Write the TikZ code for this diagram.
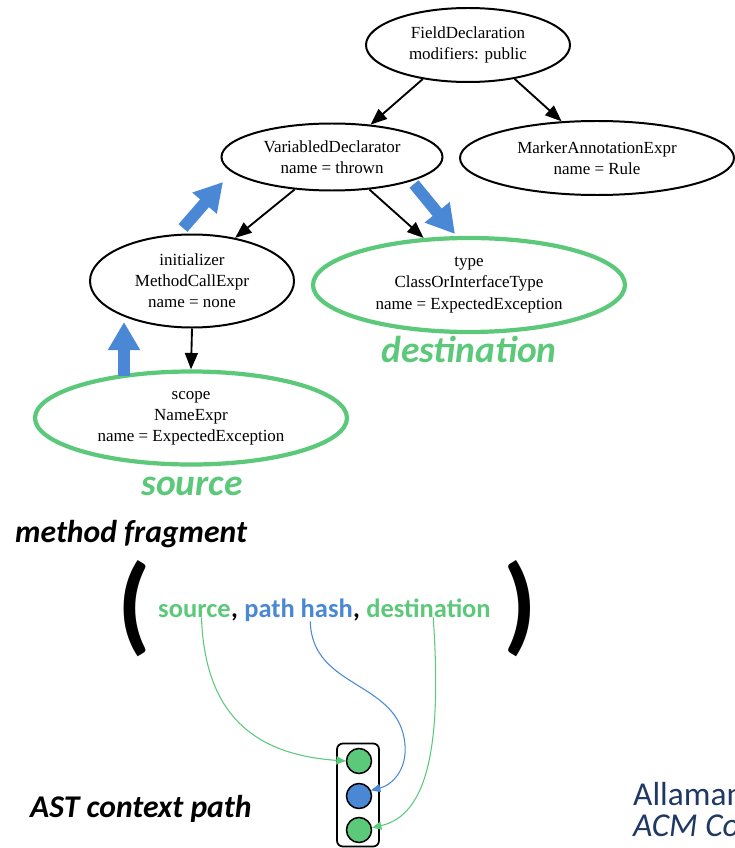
\documentclass[tikz,border=0pt]{standalone}
\usepackage{fontspec}
\setmainfont{Liberation Serif}
\newfontfamily\calibri{Carlito}
\usetikzlibrary{shapes.geometric,arrows.meta}

\definecolor{pathgreen}{RGB}{92,200,122}
\definecolor{pathblue}{RGB}{74,135,212}
\definecolor{refnavy}{RGB}{31,56,100}
\newlength\pxu \setlength\pxu{0.03cm}

\begin{document}
\begin{tikzpicture}[x=\pxu, y=-\pxu, every node/.style={inner sep=0pt}]
  \tikzstyle{ast}=[ellipse, draw, line width=1.7pt, align=center, font=\fontsize{14.5}{18}\selectfont]
  \tikzstyle{picked}=[ast, draw=pathgreen, line width=3.6pt]
  \tikzstyle{edge}=[-{Triangle[length=14pt, width=11pt]}, line width=1.6pt]
  \tikzstyle{walk}=[pathblue, line width=10pt, -{Triangle[length=24pt, width=26pt]}]
  \tikzstyle{link}=[line width=0.9pt, -{Triangle[length=8pt, width=7pt]}]
  \tikzstyle{tag}=[font=\calibri\bfseries\itshape\fontsize{32}{32}\selectfont, text=pathgreen, anchor=base]
  \tikzstyle{caption}=[font=\calibri\bfseries\itshape\fontsize{27}{27}\selectfont, anchor=base west]
  \tikzstyle{dot}=[circle, draw, line width=1.3pt, minimum size=25\pxu]
  \useasboundingbox (0,0) rectangle (734,848);

  % AST of the method fragment
  \node[ast, minimum width=204\pxu, minimum height=74\pxu] (field) at (468,45) {FieldDeclaration\\modifiers: public};
  \node[ast, minimum width=221\pxu, minimum height=67\pxu] (vardecl) at (332,157) {VariabledDeclarator\\name = thrown};
  \node[ast, minimum width=274\pxu, minimum height=74\pxu] (marker) at (597,158) {MarkerAnnotationExpr\\name = Rule};
  \node[ast, minimum width=204\pxu, minimum height=93\pxu] (init) at (192,281) {initializer\\MethodCallExpr\\name = none};
  \node[picked, minimum width=312\pxu, minimum height=94\pxu] (type) at (469,285) {type\\ClassOrInterfaceType\\name = ExpectedException};
  \node[picked, minimum width=312\pxu, minimum height=93\pxu] (scope) at (191,418) {scope\\NameExpr\\name = ExpectedException};

  \draw[edge] (field.-143) -- (vardecl.40);
  \draw[edge] (field.-36) -- (marker.134);
  \draw[edge] (vardecl.-139) -- (init.45);
  \draw[edge] (vardecl.-41) -- (type.134);
  \draw[edge] (init.south) -- (scope.north);

  % path from source up and down to destination
  \coordinate (up1) at (124,376); \coordinate (up1e) at (124,322);
  \coordinate (up2) at (183,228); \coordinate (up2e) at (223,182);
  \coordinate (down) at (414,184); \coordinate (downe) at (455,234);
  \draw[walk] (up1) -- (up1e);
  \draw[walk] (up2) -- (up2e);
  \draw[walk] (down) -- (downe);

  \node[tag] (dlabel) at (469,362) {destination};
  \node[tag] (slabel) at (192,495) {source};
  \node[caption] (frag) at (15,542) {method fragment};

  % the triple
  \node[font=\calibri\bfseries\fontsize{92}{92}\selectfont] (lpar) at (134,609) {(};
  \node[font=\calibri\bfseries\fontsize{92}{92}\selectfont] (rpar) at (520,609) {)};
  \begin{scope}[every node/.append style={font=\calibri\bfseries\fontsize{22.6}{22.6}\selectfont, anchor=base west}]
    \node[text=pathgreen] (tsrc) at (158,617) {source};
    \node (tc1) at (tsrc.base east) {,};
    \node[text=pathblue, xshift=5pt] (thash) at (tc1.base east) {path hash};
    \node (tc2) at (thash.base east) {,};
    \node[text=pathgreen, xshift=5pt] (tdst) at (tc2.base east) {destination};
  \end{scope}

  % context vector
  \node[draw, rounded corners=5pt, line width=1.5pt, minimum width=42\pxu, minimum height=103\pxu] (ctx) at (358,795) {};
  \node[dot, fill=pathgreen] (c1) at (359,761) {};
  \node[dot, fill=pathblue] (c2) at (359,796) {};
  \node[dot, fill=pathgreen] (c3) at (359,830) {};

  \draw[link, pathgreen] ([xshift=6pt]tsrc.south) .. controls (205,720) and (260,755) .. (c1.west);
  \draw[link, pathblue] ([xshift=10pt]thash.south) .. controls (312,690) and (400,680) .. (405,745) .. controls (407,770) and (392,785) .. (c2.25);
  \draw[link, pathgreen] ([xshift=4pt]tdst.south) .. controls (442,745) and (428,815) .. (c3.10);

  \node[caption] (astpath) at (30,817) {AST context path};
  \node[font=\calibri\fontsize{28.5}{28.5}\selectfont, text=refnavy, anchor=base west] (cite1) at (633,805) {Allaman};
  \node[font=\calibri\itshape\fontsize{28.5}{28.5}\selectfont, text=refnavy, anchor=base west] (cite2) at (633,836) {ACM Co};
\end{tikzpicture}
\end{document}
